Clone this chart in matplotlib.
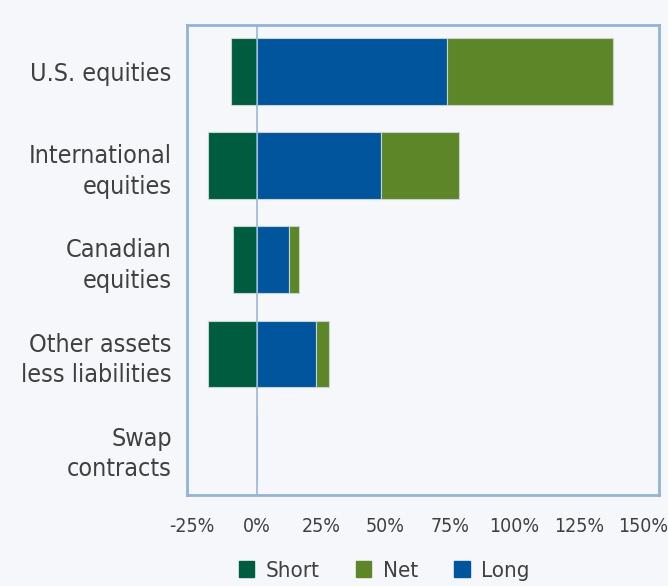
import matplotlib
matplotlib.use("Agg")
import matplotlib.pyplot as plt
import matplotlib.patches as mpatches
from matplotlib import font_manager

categories = ["U.S. equities", "International\nequities", "Canadian\nequities",
              "Other assets\nless liabilities", "Swap\ncontracts"]
short = [-9.8, -19.0, -9.0, -18.7, 0.0]
long_ = [73.8, 48.3, 12.6, 23.1, 0.0]
net = [64.5, 30.0, 4.0, 4.8, 0.0]
ticks = [-25, 0, 25, 50, 75, 100, 125, 150]
tick_labels = [f"{t}%" for t in ticks]

SHORT_C = "#005c3e"
NET_C = "#5c8628"
LONG_C = "#00559c"
FRAME = "#93b3d8"
BG = "#f5f7fb"
TXT = "#404040"

# narrow face if one is installed
cond = [f for f in font_manager.fontManager.ttflist
        if f.name == "DejaVu Sans" and f.stretch == "condensed" and f.style == "normal"
        and f.weight in (400, "normal")]
plt.rcParams["font.family"] = "DejaVu Sans"
if cond:
    plt.rcParams["font.stretch"] = "condensed"
    ysz, xsz, lsz = 18, 14, 16
else:
    ysz, xsz, lsz = 14.5, 12, 14

fig = plt.figure(figsize=(6.68, 5.86), dpi=100, facecolor=BG)
ax = fig.add_axes([0.28, 0.155, 0.7065, 0.803], facecolor=BG)

y = list(range(len(categories)))
h = 0.71
edge = dict(edgecolor="#c8d4d0", linewidth=0.8)
ax.barh(y, short, height=h, color=SHORT_C, **edge)
ax.barh(y, long_, height=h, color=LONG_C, **edge)
ax.barh(y, net, height=h, left=long_, color=NET_C, **edge)

ax.axvline(0, color=FRAME, lw=1.1, zorder=3)
ax.set_xlim(-27, 156)
ax.set_ylim(len(categories) - 0.5, -0.5)
ax.set_yticks(y)
ax.set_yticklabels(categories, fontsize=ysz, color=TXT, linespacing=1.35)
ax.set_xticks(ticks)
ax.set_xticklabels(tick_labels, fontsize=xsz, color=TXT)
ax.tick_params(axis="both", length=0)
ax.tick_params(axis="y", pad=11)
ax.tick_params(axis="x", pad=16)
for s in ax.spines.values():
    s.set_color(FRAME)
    s.set_linewidth(2)

handles = [mpatches.Patch(color=SHORT_C, label="Short"),
           mpatches.Patch(color=NET_C, label="Net"),
           mpatches.Patch(color=LONG_C, label="Long")]
fig.legend(handles=handles, loc="lower center", bbox_to_anchor=(0.575, -0.025),
           ncol=3, frameon=False, fontsize=lsz, handlelength=0.7, handleheight=0.7,
           handletextpad=0.5, columnspacing=1.65, labelcolor=TXT)

fig.savefig("out.png", dpi=100, facecolor=BG)
